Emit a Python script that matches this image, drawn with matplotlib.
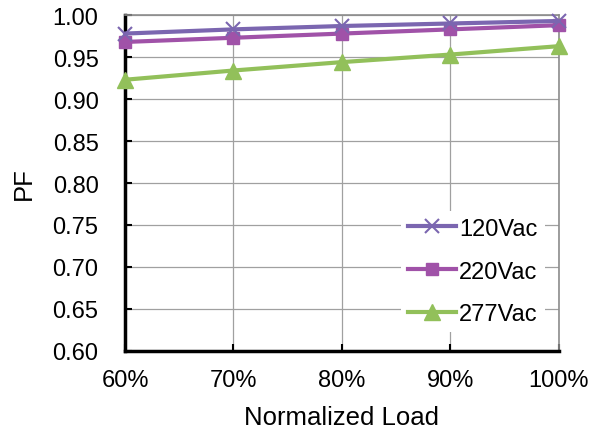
import matplotlib
matplotlib.use("Agg")
import matplotlib.pyplot as plt

plt.rcParams['font.family'] = ['Liberation Sans', 'DejaVu Sans']

# data
loads = [60, 70, 80, 90, 100]
x_labels = ['60%', '70%', '80%', '90%', '100%']
pf_120 = [0.978, 0.983, 0.987, 0.990, 0.993]
pf_220 = [0.968, 0.973, 0.978, 0.983, 0.988]
pf_277 = [0.923, 0.934, 0.944, 0.953, 0.963]

fig = plt.figure(figsize=(6.01, 4.35), dpi=100)
ax = fig.add_axes([0.208, 0.191, 0.722, 0.772])

ax.plot(loads, pf_120, color='#7b66b0', lw=3, marker='x', ms=10, mew=1.5,
        label='120Vac', clip_on=False, zorder=5)
ax.plot(loads, pf_220, color='#a052a8', lw=3, marker='s', ms=9,
        label='220Vac', clip_on=False, zorder=4)
ax.plot(loads, pf_277, color='#92c05a', lw=3, marker='^', ms=12,
        label='277Vac', clip_on=False, zorder=3)

ax.set_xlim(60, 100)
ax.set_ylim(0.60, 1.00)
ax.set_xticks(loads)
ax.set_xticklabels(x_labels)
ax.set_yticks([0.60 + 0.05 * i for i in range(9)])
ax.set_yticklabels(['%.2f' % (0.60 + 0.05 * i) for i in range(9)])
ax.tick_params(axis='both', direction='in', length=5, width=1.5, labelsize=17)
ax.tick_params(axis='y', pad=19)
ax.tick_params(axis='x', pad=13)
ax.grid(True, color='#a0a0a0', lw=0.9)
ax.set_axisbelow(True)

for s in ['top', 'right']:
    ax.spines[s].set_color('#8c8c8c')
    ax.spines[s].set_linewidth(1.2)
for s in ['left', 'bottom']:
    ax.spines[s].set_color('black')
    ax.spines[s].set_linewidth(2.5)

ax.set_xlabel('Normalized Load', fontsize=18.5, labelpad=10)
ax.set_ylabel('PF', fontsize=18.5, labelpad=12)

leg = ax.legend(loc='lower right', bbox_to_anchor=(0.995, 0.02), fontsize=17,
                frameon=True, fancybox=False, edgecolor='none', framealpha=1,
                handlelength=2.0, labelspacing=0.88, borderpad=0.3, handletextpad=0.15)

fig.savefig('out.png', dpi=100)
